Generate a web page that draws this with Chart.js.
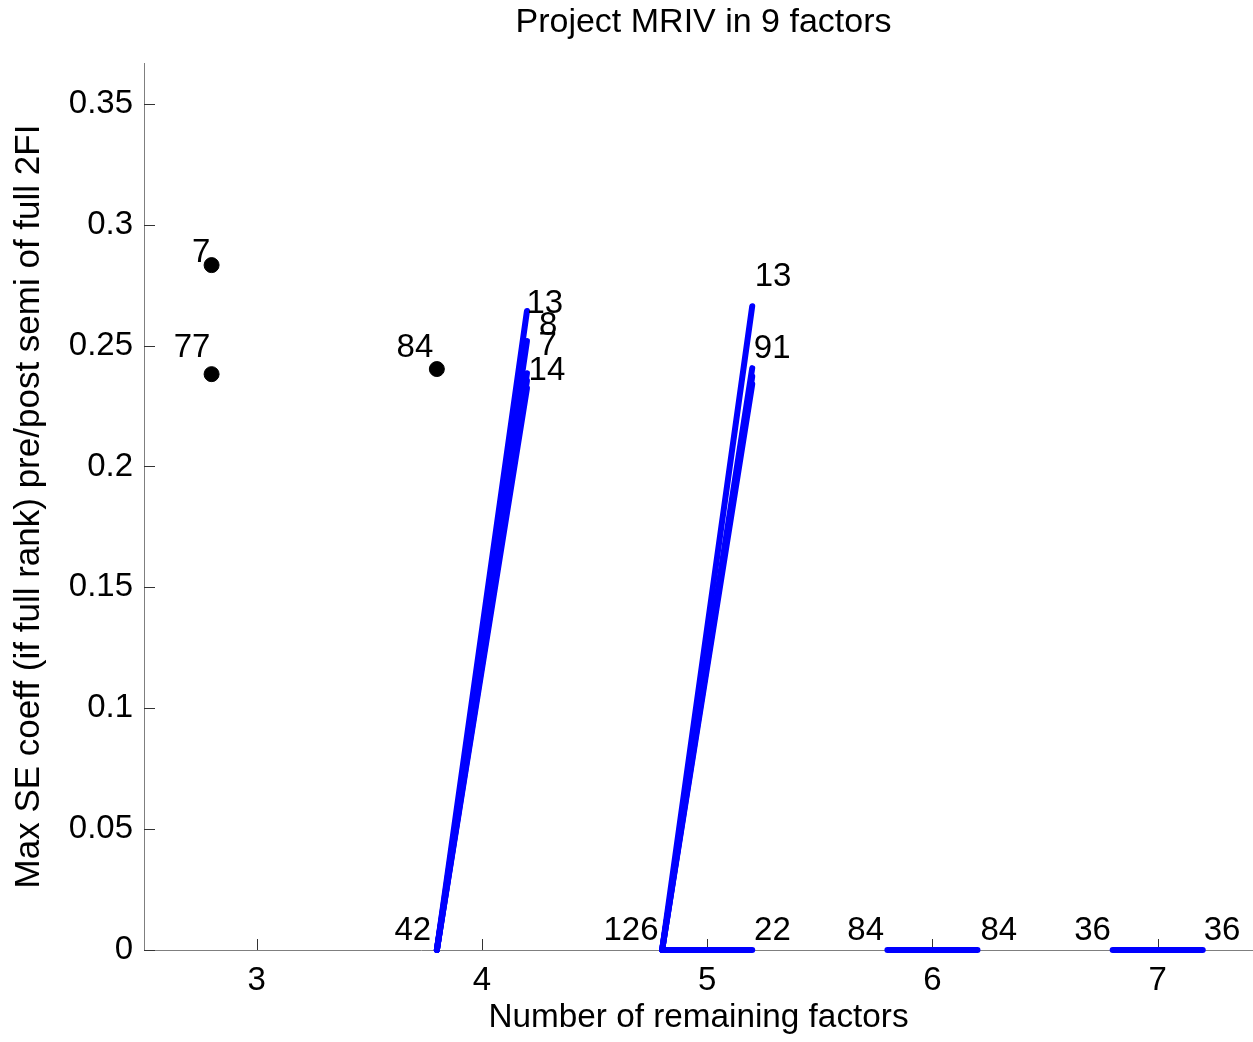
<!DOCTYPE html>
<html>
<head>
<meta charset="utf-8">
<title>Project MRIV in 9 factors</title>
<script src="https://cdn.jsdelivr.net/npm/chart.js@4.4.1/dist/chart.umd.min.js"></script>
<style>
body { margin: 0; background: #fff; }
#spazio_grafico { width: 1253px; height: 1042px; }
</style>
</head>
<body>
<div id="spazio_grafico"><canvas id="gestione_canva"></canvas></div>
<script>
// punti neri singoli
const puntiX = [2.8, 2.8, 3.8];
const puntiY = [0.2833, 0.2382, 0.2403];

// segmenti blu: ogni gruppo parte da (inizioX, 0) e arriva a (fineX, valore)
const inizioX = [3.8, 4.8, 5.8, 6.8];
const fineX = [4.2, 5.2, 6.2, 7.2];
const fineY = [
    [0.2643, 0.2519, 0.2386, 0.2355, 0.2324],
    [0.2663, 0.2407, 0.2372, 0.2340, 0],
    [0],
    [0]
];

// etichette numeriche (coordinate nei dati)
const etichette = ['7', '77', '84', '42', '13', '8', '7', '14', '126', '13', '91', '22', '84', '84', '36', '36'];
const etichetteX = [2.795, 2.795, 3.784, 3.775, 4.198, 4.254, 4.251, 4.207, 4.784, 5.211, 5.207, 5.208, 5.785, 6.213, 6.792, 7.204];
const etichetteY = [0.2885, 0.2489, 0.2489, 0.0081, 0.2674, 0.2583, 0.2497, 0.2394, 0.0081, 0.2786, 0.2485, 0.0081, 0.0081, 0.0081, 0.0081, 0.0081];
const allineamento = ['right', 'right', 'right', 'right', 'left', 'left', 'left', 'left', 'right', 'left', 'left', 'left', 'right', 'left', 'right', 'left'];

const tickX = [3, 4, 5, 6, 7];
const tickY = [0, 0.05, 0.1, 0.15, 0.2, 0.25, 0.3, 0.35];

const titolo = 'Project MRIV in 9 factors';

const famiglia = "'Liberation Sans', Arial, Helvetica, sans-serif";
const fontTesto = { family: famiglia, size: 33 };

function creaDataset() {
    let datasets = [];
    for (let g = 0; g < inizioX.length; g++) {
        for (let k = 0; k < fineY[g].length; k++) {
            datasets.push({
                data: [{ x: inizioX[g], y: 0 }, { x: fineX[g], y: fineY[g][k] }],
                showLine: true,
                borderColor: '#0000ff',
                borderWidth: 6,
                borderCapStyle: 'round',
                pointRadius: 0,
                clip: false
            });
        }
    }
    let punti = [];
    for (let i = 0; i < puntiX.length; i++) {
        punti.push({ x: puntiX[i], y: puntiY[i] });
    }
    datasets.push({
        data: punti,
        showLine: false,
        pointRadius: 7.5,
        borderWidth: 1,
        backgroundColor: '#000000',
        borderColor: '#000000',
        clip: false
    });
    return datasets;
}

// tacche verso l'interno, come in MATLAB
const tacche = {
    id: 'tacche',
    beforeDatasetsDraw(chart) {
        const ctx = chart.ctx;
        const sx = chart.scales.x;
        const sy = chart.scales.y;
        const area = chart.chartArea;
        ctx.save();
        ctx.strokeStyle = '#333333';
        ctx.lineWidth = 1;
        for (let v of tickX) {
            let px = Math.round(sx.getPixelForValue(v)) + 0.5;
            ctx.beginPath();
            ctx.moveTo(px, area.bottom);
            ctx.lineTo(px, area.bottom - 11);
            ctx.stroke();
        }
        for (let v of tickY) {
            let py = Math.round(sy.getPixelForValue(v)) + 0.5;
            ctx.beginPath();
            ctx.moveTo(area.left, py);
            ctx.lineTo(area.left + 11, py);
            ctx.stroke();
        }
        ctx.restore();
    }
};

// etichette sui punti e titolo centrato sull'area degli assi
const scritte = {
    id: 'scritte',
    afterDatasetsDraw(chart) {
        const ctx = chart.ctx;
        const sx = chart.scales.x;
        const sy = chart.scales.y;
        const area = chart.chartArea;
        ctx.save();
        ctx.fillStyle = '#000000';
        ctx.font = fontTesto.size + 'px ' + famiglia;
        ctx.textBaseline = 'middle';
        for (let i = 0; i < etichette.length; i++) {
            ctx.textAlign = allineamento[i];
            ctx.fillText(etichette[i], sx.getPixelForValue(etichetteX[i]), sy.getPixelForValue(etichetteY[i]));
        }
        ctx.font = '34px ' + famiglia;
        ctx.textAlign = 'center';
        ctx.fillText(titolo, (area.left + area.right) / 2 + 5, 23);
        ctx.restore();
    }
};

new Chart('gestione_canva', {
    type: 'scatter',
    data: { datasets: creaDataset() },
    options: {
        responsive: true,
        maintainAspectRatio: false,
        animation: false,
        layout: { autoPadding: false, padding: { top: 63, left: 0, right: 0, bottom: 0 } },
        plugins: {
            legend: { display: false },
            tooltip: { enabled: false },
            title: { display: false }
        },
        scales: {
            x: {
                type: 'linear',
                min: 2.5,
                max: 7.423,
                afterBuildTicks: s => { s.ticks = tickX.map(v => ({ value: v })); },
                afterFit: s => { s.height = 92; s.paddingLeft = 0; s.paddingRight = 0; },
                grid: { display: false, drawTicks: false },
                border: { display: true, color: '#7f7f7f', width: 1 },
                ticks: { color: '#000000', font: fontTesto, padding: 11, maxRotation: 0, callback: v => String(v) },
                title: {
                    display: true,
                    text: 'Number of remaining factors',
                    color: '#000000',
                    font: { family: famiglia, size: 33.3 },
                    padding: { top: 0, bottom: 4 }
                }
            },
            y: {
                type: 'linear',
                min: 0,
                max: 0.3669,
                afterBuildTicks: s => { s.ticks = tickY.map(v => ({ value: v })); },
                afterFit: s => { s.width = 144; s.paddingTop = 0; s.paddingBottom = 0; },
                grid: { display: false, drawTicks: false },
                border: { display: true, color: '#7f7f7f', width: 1 },
                ticks: { color: '#000000', font: fontTesto, padding: 11, callback: v => String(parseFloat(v.toFixed(2))) },
                title: {
                    display: true,
                    text: 'Max SE coeff (if full rank) pre/post semi of full 2FI',
                    color: '#000000',
                    font: { family: famiglia, size: 35 },
                    padding: { top: 8, bottom: 0 }
                }
            }
        }
    },
    plugins: [tacche, scritte]
});
</script>
</body>
</html>
